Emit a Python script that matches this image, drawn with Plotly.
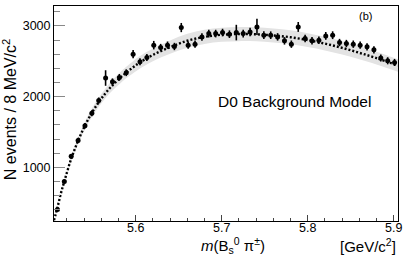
import plotly.graph_objects as go

# ---- data ----
mass = [round(5.509 + 0.008 * k, 3) for k in range(50)]  # bin centres (8 MeV bins)
events = [404, 799, 1155, 1380, 1587, 1765, 1944, 2263, 2211, 2272,
          2338, 2601, 2493, 2554, 2728, 2694, 2728, 2709, 2977, 2728,
          2742, 2845, 2892, 2892, 2906, 2883, 2906, 2892, 2915, 2986,
          2869, 2869, 2845, 2789, 2742, 2986, 2821, 2789, 2799, 2859,
          2869, 2765, 2751, 2742, 2728, 2704, 2662, 2545, 2507, 2483]
errors = [20, 28, 34, 37, 40, 42, 44, 110, 47, 48,
          48, 60, 50, 50, 60, 52, 52, 52, 65, 52,
          52, 53, 54, 54, 54, 54, 110, 54, 60, 115,
          54, 54, 53, 53, 52, 70, 53, 53, 53, 55,
          55, 52, 52, 52, 52, 52, 52, 50, 50, 50]

fit_x = [5.505, 5.509, 5.513, 5.517, 5.525, 5.533, 5.541, 5.549, 5.557, 5.565,
         5.573, 5.581, 5.589, 5.597, 5.605, 5.62, 5.64, 5.66, 5.68, 5.70,
         5.72, 5.74, 5.76, 5.78, 5.80, 5.82, 5.84, 5.86, 5.88, 5.905]
fit_y = [250, 430, 630, 800, 1120, 1375, 1590, 1770, 1920, 2050,
         2160, 2255, 2340, 2415, 2485, 2590, 2700, 2790, 2845, 2875,
         2885, 2882, 2865, 2840, 2800, 2750, 2690, 2620, 2545, 2440]
band_half = [10, 15, 20, 25, 35, 45, 55, 60, 65, 70,
             75, 80, 82, 85, 88, 90, 95, 98, 100, 100,
             100, 100, 100, 100, 98, 96, 95, 93, 90, 88]

x_ticks = [5.6, 5.7, 5.8, 5.9]
y_ticks = [1000, 2000, 3000]

band_hi = [y + h for y, h in zip(fit_y, band_half)]
band_lo = [y - h for y, h in zip(fit_y, band_half)]

FONT = "Liberation Sans, Arial, Helvetica, sans-serif"

fig = go.Figure()
fig.add_trace(go.Scatter(x=fit_x, y=band_hi, mode="lines", line=dict(width=0, shape="spline"),
                         hoverinfo="skip", showlegend=False))
fig.add_trace(go.Scatter(x=fit_x, y=band_lo, mode="lines", line=dict(width=0, shape="spline"),
                         fill="tonexty", fillcolor="#e3e3e3", hoverinfo="skip", showlegend=False))
fig.add_trace(go.Scatter(x=fit_x, y=fit_y, mode="lines",
                         line=dict(color="black", width=2.4, dash="2px,2px", shape="spline"),
                         showlegend=False))
fig.add_trace(go.Scatter(x=mass, y=events, mode="markers",
                         marker=dict(color="black", size=5),
                         error_y=dict(type="data", array=errors, color="black", thickness=1.6, width=0),
                         showlegend=False))

fig.update_layout(
    width=407, height=261,
    margin=dict(l=54, r=5, t=5, b=40),
    paper_bgcolor="white", plot_bgcolor="white",
    font=dict(family=FONT, color="black", size=12),
    xaxis=dict(range=[5.505, 5.905], tickvals=x_ticks, ticktext=[str(v) for v in x_ticks],
               ticks="inside", ticklen=6, tickcolor="#444", tickwidth=1,
               minor=dict(dtick=0.02, tick0=5.5, ticks="inside", ticklen=3, tickcolor="#444"),
               showgrid=False, zeroline=False, showline=True, linecolor="black", linewidth=1,
               mirror=True, tickfont=dict(size=12.5), ticklabelstandoff=-5),
    yaxis=dict(range=[240, 3282], tickvals=y_ticks, ticktext=[str(v) for v in y_ticks],
               ticks="inside", ticklen=11, tickcolor="#888", tickwidth=1,
               minor=dict(dtick=200, tick0=0, ticks="inside", ticklen=6, tickcolor="#888"),
               showgrid=False, zeroline=False, showline=True, linecolor="black", linewidth=1,
               mirror=True, tickfont=dict(size=12.5)),
    annotations=[
        dict(text="N events / 8 MeV/c<sup>2</sup>", xref="paper", yref="paper",
             x=-0.128, y=0.52, textangle=-90, showarrow=False, font=dict(size=16),
             xanchor="center", yanchor="middle"),
        dict(text="<i>m</i>(B<sub>s</sub><sup>0</sup> π<sup>±</sup>)", xref="paper", yref="paper",
             x=0.52, y=-0.115, showarrow=False, font=dict(size=15), xanchor="center", yanchor="middle"),
        dict(text="[GeV/c<sup>2</sup>]", xref="paper", yref="paper",
             x=1.0, y=-0.115, showarrow=False, font=dict(size=15), xanchor="right", yanchor="middle"),
        dict(text="D0 Background Model", xref="paper", yref="paper",
             x=0.47, y=0.555, showarrow=False, font=dict(size=15.5), xanchor="left", yanchor="middle"),
        dict(text="(b)", xref="paper", yref="paper",
             x=0.905, y=0.955, showarrow=False, font=dict(size=11), xanchor="center", yanchor="middle"),
    ],
)

fig.write_html("out.html", config={"displayModeBar": False},
               post_script="document.body.style.margin='0px';document.body.style.overflow='hidden';")
